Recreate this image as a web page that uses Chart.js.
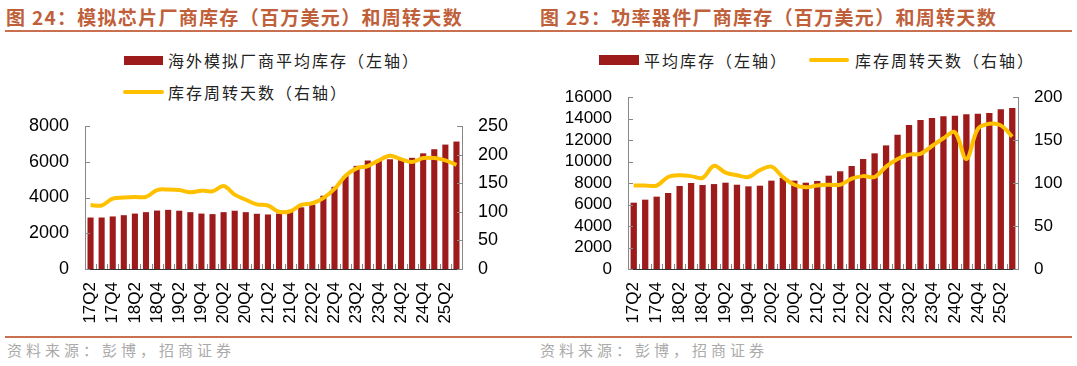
<!DOCTYPE html>
<html>
<head>
<meta charset="utf-8">
<script src="https://cdn.jsdelivr.net/npm/chart.js@4/dist/chart.umd.min.js"></script>
<style>
  body { margin: 0; background: #fff; }
  #wrap { position: relative; width: 1077px; height: 366px; background: #fff; overflow: hidden; }
  .title { position: absolute; top: 5px; font: bold 19px "Noto Sans CJK SC", sans-serif; color: #C0603A; letter-spacing: 1.3px; line-height: 24px; white-space: nowrap; }
  .rule { position: absolute; left: 5px; width: 1067px; height: 2px; background: #C87050; }
  .src { position: absolute; top: 340px; font: 15px "Noto Sans CJK SC", sans-serif; color: #aaa; letter-spacing: 4px; line-height: 20px; white-space: nowrap; }
  .lg { position: absolute; font: 16px "Noto Sans CJK SC", sans-serif; color: #222; letter-spacing: 2px; line-height: 20px; white-space: nowrap; }
  .box { position: absolute; background: #9E1B1B; }
  .ln { position: absolute; background: #FFC000; height: 4px; border-radius: 2px; }
  canvas { position: absolute; top: 0; }
</style>
</head>
<body>
<div id="wrap">
  <div class="title" style="left:6px">图 24：模拟芯片厂商库存（百万美元）和周转天数</div>
  <div class="title" style="left:540px">图 25：功率器件厂商库存（百万美元）和周转天数</div>
  <div class="rule" style="top:30px"></div>

  <div class="box" style="left:124px;top:56px;width:39px;height:9px"></div>
  <div class="lg" style="left:168px;top:50px">海外模拟厂商平均库存（左轴）</div>
  <div class="ln" style="left:123px;top:90px;width:41px"></div>
  <div class="lg" style="left:168px;top:82px">库存周转天数（右轴）</div>

  <div class="box" style="left:599px;top:55px;width:40px;height:10px"></div>
  <div class="lg" style="left:644px;top:50px">平均库存（左轴）</div>
  <div class="ln" style="left:809px;top:58px;width:40px"></div>
  <div class="lg" style="left:855px;top:50px">库存周转天数（右轴）</div>

  <canvas id="c24" width="538" height="330" style="left:0"></canvas>
  <canvas id="c25" width="538" height="330" style="left:539px"></canvas>

  <div class="rule" style="top:336px"></div>
  <div class="src" style="left:7px">资料来源：彭博，招商证券</div>
  <div class="src" style="left:540px">资料来源：彭博，招商证券</div>
</div>
<script>
const quarters = ['17Q2','17Q3','17Q4','18Q1','18Q2','18Q3','18Q4','19Q1','19Q2','19Q3','19Q4','20Q1',
  '20Q2','20Q3','20Q4','21Q1','21Q2','21Q3','21Q4','22Q1','22Q2','22Q3','22Q4','23Q1','23Q2','23Q3',
  '23Q4','24Q1','24Q2','24Q3','24Q4','25Q1','25Q2','25Q3']

// fig 24 - analog
const analogInv = [2880,2880,2940,3010,3100,3180,3270,3310,3260,3180,3100,3070,3180,3260,3180,3090,3050,
  3100,3250,3450,3600,4100,4600,5200,5770,6070,6100,6140,6100,6220,6470,6700,6960,7130]
const analogDays = [112,111,123,125,126,126,138,139,138,134,137,136,145,130,121,113,111,
  100,101,112,115,124,140,163,176,180,190,198,192,187,194,194,190,182]

// fig 25 - power devices
const powerInv = [6170,6450,6730,7070,7720,8000,7810,7900,8030,7840,7690,7750,8220,8470,8220,8030,
  8190,8680,9090,9580,10230,10760,11500,12500,13400,13860,14050,14200,14260,14390,14450,14510,14850,14980]
const powerDays = [97,97,97,107,109,108,106,120,112,109,107,115,119,107,98,95,
  97,98,98,105,108,107,119,128,133,134,143,152,159,128,163,169,167,154]

const fam = '"Liberation Sans", Arial, sans-serif'

// little tick marks pointing into the plot, like the excel original
const inwardTicks = {
  id: 'inwardTicks',
  afterDraw(chart) {
    const ctx = chart.ctx, a = chart.chartArea
    const x = chart.scales.x, y = chart.scales.y, y1 = chart.scales.y1
    ctx.save()
    ctx.strokeStyle = '#888'
    ctx.lineWidth = 1
    ctx.beginPath()
    const half = (x.getPixelForValue(1) - x.getPixelForValue(0)) / 2
    for (let i = 0; i <= quarters.length; i++) {
      const px = Math.round(x.getPixelForValue(i) - half) + 0.5
      ctx.moveTo(px, a.bottom)
      ctx.lineTo(px, a.bottom - 5)
    }
    y.ticks.forEach(t => {
      const py = Math.round(y.getPixelForValue(t.value)) + 0.5
      ctx.moveTo(a.left, py)
      ctx.lineTo(a.left + 5, py)
    })
    y1.ticks.forEach(t => {
      const py = Math.round(y1.getPixelForValue(t.value)) + 0.5
      ctx.moveTo(a.right, py)
      ctx.lineTo(a.right - 5, py)
    })
    ctx.stroke()
    ctx.restore()
  }
}

function makeChart(id, bars, days, barLabel, yMax, y1Max, top, leftW, rightW, ySize) {
  return new Chart(document.getElementById(id), {
    type: 'bar',
    data: {
      labels: quarters,
      datasets: [
        {
          type: 'line',
          label: '库存周转天数（右轴）',
          data: days,
          yAxisID: 'y1',
          borderColor: '#FFC000',
          borderWidth: 4,
          pointRadius: 0,
          tension: 0.35,
          order: 1
        },
        {
          label: barLabel,
          data: bars,
          yAxisID: 'y',
          backgroundColor: '#9E1B1B',
          barPercentage: 0.55,
          categoryPercentage: 1,
          order: 2
        }
      ]
    },
    options: {
      responsive: false,
      animation: false,
      layout: { padding: { top: top, left: 0, right: 0, bottom: 0 } },
      plugins: { legend: { display: false }, tooltip: { enabled: false } },
      scales: {
        x: {
          offset: true,
          grid: { display: false },
          border: { color: '#333' },
          ticks: {
            font: { family: fam, size: 17 }, color: '#000', autoSkip: false,
            maxRotation: 90, minRotation: 90, padding: 5,
            callback: (v, i) => i % 2 === 0 ? quarters[i] : ''
          },
          afterFit: s => { s.height = 330 - 269 }
        },
        y: {
          position: 'left', min: 0, max: yMax,
          grid: { display: false },
          border: { color: '#888' },
          ticks: { font: { family: fam, size: ySize }, color: '#000', stepSize: 2000, autoSkip: false, padding: 8, callback: v => String(v) },
          afterFit: s => { s.width = leftW }
        },
        y1: {
          position: 'right', min: 0, max: y1Max,
          grid: { display: false },
          border: { color: '#888' },
          ticks: { font: { family: fam, size: ySize }, color: '#000', stepSize: 50, autoSkip: false, padding: 8, callback: v => String(v) },
          afterFit: s => { s.width = rightW }
        }
      }
    },
    plugins: [inwardTicks]
  })
}

makeChart('c24', analogInv, analogDays, '海外模拟厂商平均库存（左轴）', 8000, 250, 126, 85, 538 - 462, 18)
makeChart('c25', powerInv, powerDays, '平均库存（左轴）', 16000, 200, 97, 89, 538 - 479, 17)
</script>
</body>
</html>
